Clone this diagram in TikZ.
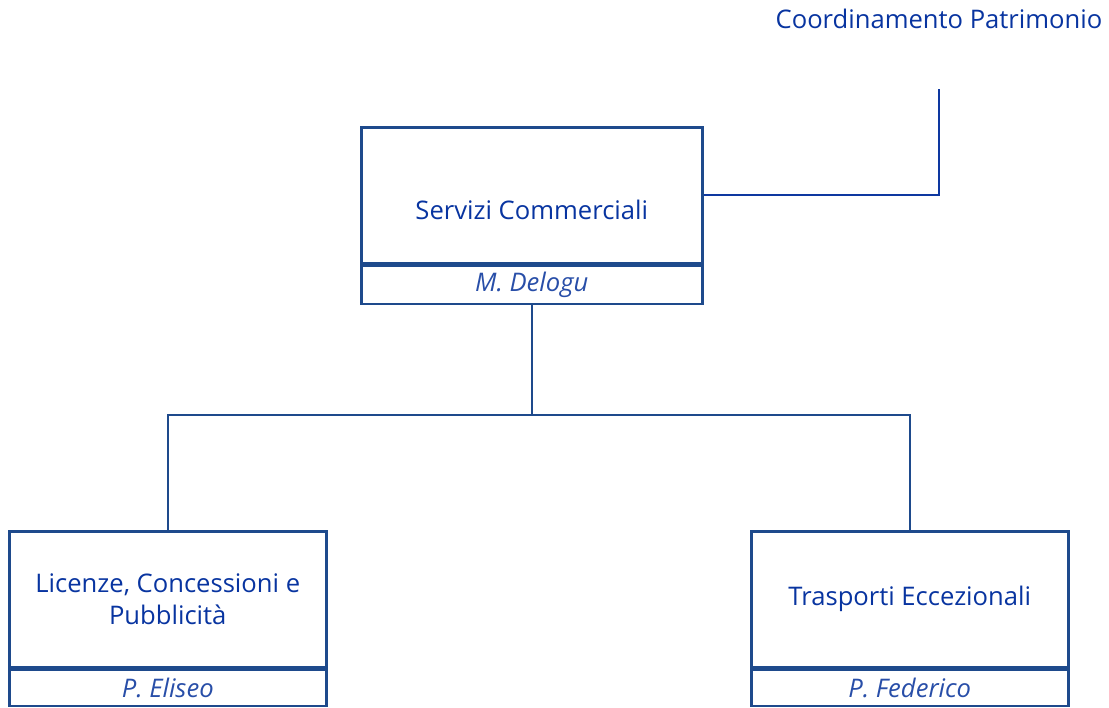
\documentclass[tikz,border=0pt]{standalone}
\usepackage{fontspec}
\setmainfont{Open Sans}
\usetikzlibrary{positioning}

\definecolor{boxblue}{RGB}{30,74,140}
\definecolor{textblue}{RGB}{8,52,160}
\definecolor{nameblue}{RGB}{40,78,168}
\definecolor{linkblue}{RGB}{14,56,160}

\tikzset{
  unit/.style={rectangle, draw=boxblue, line width=1.9pt, text=textblue, align=center,
    font=\fontsize{19.2}{24}\selectfont, inner sep=0pt},
  person/.style={rectangle, draw=boxblue, line width=1.9pt, text=nameblue,
    font=\fontsize{19.2}{22}\selectfont\itshape, inner sep=0pt},
  link/.style={draw=boxblue, line width=1.5pt}
}

\begin{document}
\begin{tikzpicture}[x=0.75pt, y=-0.75pt]
  \useasboundingbox (0,0) rectangle (1109,707);
  % \draw[help lines] (0,0) grid[step=50] (1109,707);

  \node [unit, minimum width=341*0.75pt, minimum height=136*0.75pt, text height=36pt, text depth=0pt, below right] (servizi) at (360,126) {Servizi Commerciali};
  \node [person, minimum width=341*0.75pt, minimum height=38*0.75pt, below=0pt of servizi] (delogu) {M. Delogu};

  \node [unit, minimum width=317*0.75pt, minimum height=136*0.75pt, below right] (licenze) at (8,530) {Licenze, Concessioni e\\Pubblicità};
  \node [person, minimum width=317*0.75pt, minimum height=36*0.75pt, below=0pt of licenze] (eliseo) {P. Eliseo};

  \node [unit, minimum width=317*0.75pt, minimum height=136*0.75pt, below right] (trasporti) at (750,530) {Trasporti Eccezionali};
  \node [person, minimum width=317*0.75pt, minimum height=36*0.75pt, below=0pt of trasporti] (federico) {P. Federico};

  \node [text=textblue, font=\fontsize{19.2}{22}\selectfont] (coord) at (939,19) {Coordinamento Patrimonio};
  \coordinate (coordend) at (939,89);
  \coordinate (bus) at (530,415);

  \draw[link, draw=linkblue] (servizi.east) -| (coordend);
  \draw[link] (delogu.south) -- (delogu.south |- bus);
  \draw[link] (licenze.north) |- (bus) -| (trasporti.north);

\end{tikzpicture}
\end{document}
